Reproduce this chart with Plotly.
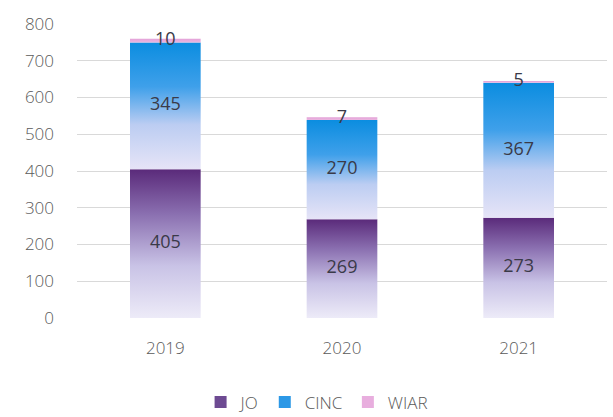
import plotly.graph_objects as go

years = ["2019", "2020", "2021"]
jo = [405, 269, 273]
cinc = [345, 270, 367]
wiar = [10, 7, 5]
y_ticks = [0, 100, 200, 300, 400, 500, 600, 700, 800]

series = [
    ("JO", jo, [[0, "#edebf8"], [0.35, "#c9c3e6"], [0.7, "#8a6fb0"], [1, "#5a2a7a"]], "#6d4a92"),
    ("CINC", cinc, [[0, "#e6e4f7"], [0.35, "#bccdf2"], [0.65, "#3fa0ea"], [1, "#0b8de0"]], "#2c98e6"),
    ("WIAR", wiar, [[0, "#eab6e0"], [1, "#e4a2d8"]], "#e8aede"),
]

TXT = "#5a5a5a"
FONT = "Open Sans"
half_w = 0.2
fig = go.Figure()
base = [0] * len(years)
label_x, label_y, label_t = [], [], []
for name, vals, cs, swatch in series:
    for i, v in enumerate(vals):
        y0, y1 = base[i], base[i] + v
        fig.add_trace(go.Scatter(
            x=[i - half_w, i + half_w, i + half_w, i - half_w, i - half_w],
            y=[y0, y0, y1, y1, y0],
            mode="lines", line=dict(width=0), fill="toself",
            fillgradient=dict(type="vertical", colorscale=cs),
            name=name, legendgroup=name, showlegend=False,
            hoverinfo="skip",
        ))
        label_x.append(i)
        label_y.append((y0 + y1) / 2)
        label_t.append(str(v))
        base[i] = y1
    # legend swatch for the series
    fig.add_trace(go.Bar(
        x=[None], y=[None], name=name, legendgroup=name,
        marker=dict(color=swatch, line=dict(width=0)), showlegend=True,
    ))

fig.add_trace(go.Scatter(
    x=label_x, y=label_y, text=label_t, mode="text",
    textfont=dict(size=18, color="#3a3a48", family=FONT, weight=400),
    showlegend=False, hoverinfo="skip",
))

fig.update_layout(
    width=613, height=417,
    margin=dict(l=77, r=6, t=24, b=99),
    paper_bgcolor="white", plot_bgcolor="white",
    font=dict(family=FONT, color=TXT, size=17, weight=300),
    legend=dict(orientation="h", x=0.453, xanchor="center",
                yref="container", y=0.035, yanchor="middle",
                font=dict(size=17, color=TXT, family=FONT, weight=300),
                itemwidth=30, traceorder="normal"),
)
fig.update_xaxes(range=[-0.5, 2.5], tickvals=list(range(len(years))), ticktext=years,
                 showgrid=False, zeroline=False, showline=False, ticks="",
                 ticklabelstandoff=18, automargin=False,
                 tickfont=dict(size=17, color=TXT, family=FONT, weight=300))
fig.update_yaxes(range=[0, 800], tickvals=y_ticks, showgrid=True, gridcolor="#d9d9d9",
                 gridwidth=1, zeroline=False, showline=False, ticks="",
                 ticklabelstandoff=22, automargin=False,
                 tickfont=dict(size=17, color=TXT, family=FONT, weight=300))

fig.write_html("out.html")
